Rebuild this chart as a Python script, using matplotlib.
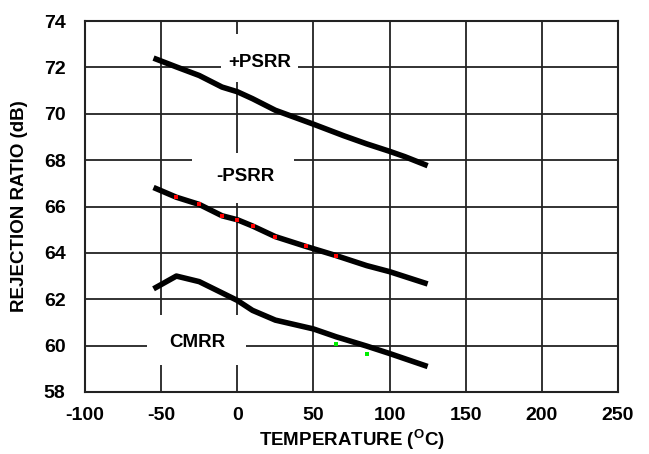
import matplotlib
matplotlib.use("Agg")
import matplotlib.pyplot as plt
from matplotlib.patches import Rectangle

plt.rcParams['font.family'] = ['Liberation Sans', 'DejaVu Sans']
plt.rcParams['mathtext.fontset'] = 'custom'
plt.rcParams['mathtext.rm'] = 'Liberation Sans:bold'
plt.rcParams['mathtext.bf'] = 'Liberation Sans:bold'

# data
psrr_pos_t = [-55, -40, -25, -10, 0, 10, 25, 50, 70, 85, 100, 110, 125]
psrr_pos_db = [72.4, 72.02, 71.65, 71.15, 70.95, 70.65, 70.15, 69.55, 69.05, 68.7, 68.38, 68.15, 67.76]

psrr_neg_t = [-55, -40, -25, -10, 0, 10, 25, 45, 65, 85, 100, 125]
psrr_neg_db = [66.82, 66.4, 66.09, 65.6, 65.43, 65.16, 64.7, 64.28, 63.88, 63.45, 63.19, 62.66]
psrr_neg_mark_t = [-40, -25, -10, 0, 10, 25, 45, 65]
psrr_neg_mark_db = [66.4, 66.09, 65.6, 65.43, 65.16, 64.7, 64.28, 63.88]

cmrr_t = [-55, -40, -25, 0, 10, 25, 50, 65, 85, 100, 125]
cmrr_db = [62.45, 63.0, 62.76, 61.95, 61.52, 61.1, 60.72, 60.38, 59.98, 59.66, 59.1]
cmrr_mark_t = [65, 85]
cmrr_mark_db = [60.07, 59.63]

x_ticks = [-100, -50, 0, 50, 100, 150, 200, 250]
y_ticks = [58, 60, 62, 64, 66, 68, 70, 72, 74]

FS_TICK = 14
FS_LAB = 13.5

fig = plt.figure(figsize=(6.49, 4.54), dpi=100)
ax = fig.add_axes([85/649, 1-392/454, (618-85)/649, (392-21)/454])
ax.set_xlim(-100, 250)
ax.set_ylim(58, 74)
ax.set_xticks(x_ticks)
ax.set_yticks(y_ticks)
ax.set_xticklabels([str(v) for v in x_ticks], fontsize=FS_TICK, fontweight='bold')
ax.set_yticklabels([str(v) for v in y_ticks], fontsize=FS_TICK, fontweight='bold')
ax.tick_params(axis='y', length=0, pad=14)
ax.tick_params(axis='x', length=0, pad=11)
ax.grid(True, color='#222222', lw=1.3, zorder=1)
ax.set_axisbelow(True)
for s in ax.spines.values():
    s.set_linewidth(1.5)
    s.set_color('#222222')

# white label boxes (mask gridlines)
boxes = [(-11, 71.37, 50.6, 2.07), (-29.5, 66.15, 67, 2.15), (-59.5, 59.15, 65.5, 2.15)]
for (bx, by, bw, bh) in boxes:
    ax.add_patch(Rectangle((bx, by), bw, bh, facecolor='white', edgecolor='none', zorder=2))

ax.text(15, 72.2, '+PSRR', fontsize=FS_LAB, fontweight='bold', ha='center', va='center', zorder=3)
ax.text(5, 67.3, '-PSRR', fontsize=FS_LAB, fontweight='bold', ha='center', va='center', zorder=3)
ax.text(-26, 60.15, 'CMRR', fontsize=FS_LAB, fontweight='bold', ha='center', va='center', zorder=3)

ax.plot(psrr_pos_t, psrr_pos_db, color='black', lw=4, zorder=4, solid_capstyle='butt')
ax.plot(psrr_neg_t, psrr_neg_db, color='black', lw=4, zorder=4, solid_capstyle='butt')
ax.plot(cmrr_t, cmrr_db, color='black', lw=4, zorder=4, solid_capstyle='butt')
ax.scatter(psrr_neg_mark_t, psrr_neg_mark_db, marker='s', s=5, color='red', zorder=5, linewidths=0)
ax.scatter(cmrr_mark_t, cmrr_mark_db, marker='s', s=5, color='#00ee00', zorder=5, linewidths=0)

ax.set_xlabel(r'TEMPERATURE ($^{\rm O}$C)', fontsize=FS_LAB, fontweight='bold', va='center')
ax.xaxis.set_label_coords(0.5, -(440 - 392) / 371)
ax.set_ylabel('REJECTION RATIO (dB)', fontsize=FS_LAB, fontweight='bold', va='center')
ax.yaxis.set_label_coords((20 - 85) / 533, 0.5)

fig.savefig('out.png', dpi=100)
